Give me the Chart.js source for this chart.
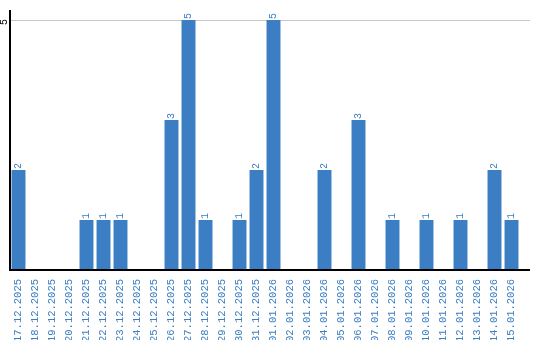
<!DOCTYPE html>
<html>
<head>
<meta charset="utf-8">
<script src="https://cdn.jsdelivr.net/npm/chart.js@4.4.1/dist/chart.umd.min.js"></script>
<style>
  html, body { margin: 0; padding: 0; background: #fff; }
  #wrap { width: 540px; height: 340px; }
</style>
</head>
<body>
<div id="wrap"><canvas id="myChart" width="540" height="340"></canvas></div>
<script>
var dates = ['17.12.2025', '18.12.2025', '19.12.2025', '20.12.2025', '21.12.2025', '22.12.2025',
    '23.12.2025', '24.12.2025', '25.12.2025', '26.12.2025', '27.12.2025', '28.12.2025',
    '29.12.2025', '30.12.2025', '31.12.2025', '01.01.2026', '02.01.2026', '03.01.2026',
    '04.01.2026', '05.01.2026', '06.01.2026', '07.01.2026', '08.01.2026', '09.01.2026',
    '10.01.2026', '11.01.2026', '12.01.2026', '13.01.2026', '14.01.2026', '15.01.2026'];
var counts = [2, 0, 0, 0, 1, 1, 1, 0, 0, 3, 5, 1, 0, 1, 2, 5, 0, 0, 2, 0, 3, 0, 1, 0, 1, 0, 1, 0, 2, 1];
var yTicks = [5];

var blue = '#3b7ec3';
var font = '"Liberation Mono", "DejaVu Sans Mono", monospace';

// axis lines, grid line, y tick text and value labels
var drawExtras = {
    id: 'drawExtras',
    beforeDatasetsDraw: function (chart) {
        var c = chart.ctx, a = chart.chartArea, y = chart.scales.y;
        c.save();
        c.strokeStyle = '#c8c8c8';
        c.lineWidth = 1;
        yTicks.forEach(function (v) {
            var py = Math.round(y.getPixelForValue(v)) + 0.5;
            c.beginPath();
            c.moveTo(a.left, py);
            c.lineTo(a.right + 10, py);
            c.stroke();
        });
        c.restore();
    },
    afterDatasetsDraw: function (chart) {
        var c = chart.ctx, a = chart.chartArea, y = chart.scales.y;
        c.save();
        c.strokeStyle = '#000';
        c.lineWidth = 2;
        c.beginPath();
        c.moveTo(a.left, a.top);
        c.lineTo(a.left, a.bottom);
        c.lineTo(a.right + 10, a.bottom);
        c.stroke();

        c.fillStyle = '#000';
        c.font = '10px ' + font;
        c.textAlign = 'center';
        c.textBaseline = 'middle';
        yTicks.forEach(function (v) {
            c.save();
            c.translate(4, y.getPixelForValue(v) + 2);
            c.rotate(-Math.PI / 2);
            c.fillText(String(v), 0, 0);
            c.restore();
        });

        c.fillStyle = blue;
        c.textAlign = 'left';
        var meta = chart.getDatasetMeta(0);
        meta.data.forEach(function (bar, i) {
            if (!counts[i]) return;
            c.save();
            c.translate(bar.x, bar.y - 1);
            c.rotate(-Math.PI / 2);
            c.fillText(String(counts[i]), 0, 0);
            c.restore();
        });
        c.restore();
    }
};

var ctx = document.getElementById('myChart').getContext('2d');
var myChart = new Chart(ctx, {
    type: 'bar',
    data: {
        labels: dates,
        datasets: [{
            data: counts,
            backgroundColor: blue,
            borderWidth: 0,
            barPercentage: 0.82,
            categoryPercentage: 1
        }]
    },
    options: {
        responsive: false,
        animation: false,
        layout: { padding: { top: 10, right: 20, left: 0, bottom: 0 } },
        plugins: {
            legend: { display: false },
            tooltip: { enabled: false }
        },
        scales: {
            x: {
                grid: { display: false },
                border: { display: false },
                ticks: {
                    color: blue,
                    font: { family: font, size: 10.5 },
                    minRotation: 90,
                    maxRotation: 90,
                    autoSkip: false,
                    padding: 1
                },
                afterFit: function (s) { s.height = 70; }
            },
            y: {
                min: 0,
                max: 5.2,
                grid: { display: false },
                border: { display: false },
                ticks: { display: false },
                afterFit: function (s) { s.width = 10; }
            }
        }
    },
    plugins: [drawExtras]
});
</script>
</body>
</html>
